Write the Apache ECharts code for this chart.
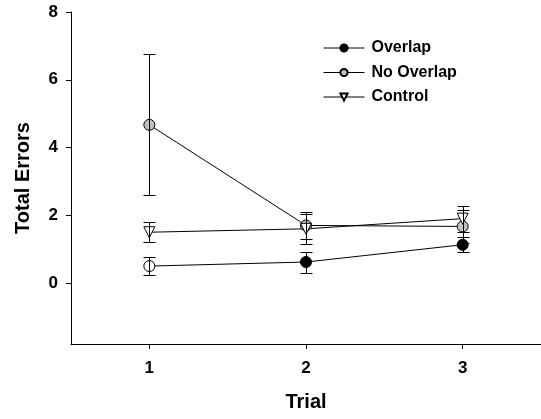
<!DOCTYPE html>
<html><head><meta charset="utf-8">
<script src="https://cdn.jsdelivr.net/npm/echarts@6/dist/echarts.min.js"></script>
<style>html,body{margin:0;padding:0;background:#fff}#c{width:541px;height:419px}</style>
</head><body><div id="c"></div>
<script>
const trials = ['1', '2', '3'];
const overlapMean = [0.5, 0.62, 1.13];
const overlapErr = [0.26, 0.31, 0.22];
const noOverlapMean = [4.67, 1.7, 1.67];
const noOverlapErr = [2.08, 0.4, 0.5];
const controlMean = [1.5, 1.6, 1.9];
const controlErr = [0.3, 0.45, 0.38];
const yTicks = [0, 2, 4, 6, 8];

const FONT = '"Liberation Sans", Arial, Helvetica, sans-serif';

function errSeries(name, mean, err) {
  return {
    type: 'custom', name: name + ' err', z: 5, silent: true,
    data: mean.map((m, i) => [i, m - err[i], m + err[i]]),
    encode: { x: 0, y: [1, 2] },
    renderItem(params, api) {
      const x = api.value(0);
      const lo = api.coord([x, api.value(1)]);
      const hi = api.coord([x, api.value(2)]);
      const w = 6;
      const cx = Math.round(lo[0]) + 0.5;
      const ly = Math.round(lo[1]) + 0.5, hy = Math.round(hi[1]) + 0.5;
      const st = { stroke: '#000', lineWidth: 1 };
      return { type: 'group', children: [
        { type: 'line', shape: { x1: cx, y1: ly, x2: cx, y2: hy }, style: st },
        { type: 'line', shape: { x1: cx - w, y1: ly, x2: cx + w, y2: ly }, style: st },
        { type: 'line', shape: { x1: cx - w, y1: hy, x2: cx + w, y2: hy }, style: st }
      ]};
    }
  };
}

const chart = echarts.init(document.getElementById('c'), null, { renderer: 'canvas' });
chart.setOption({
  animation: false,
  backgroundColor: '#fff',
  textStyle: { fontFamily: FONT },
  grid: { left: 71, top: 12, width: 478, bottom: 75, containLabel: false },
  legend: {
    orient: 'vertical', left: 318, top: 35,
    itemWidth: 41, itemHeight: 9, itemGap: 8.5,
    data: ['Overlap', 'No Overlap', 'Control'],
    lineStyle: { width: 1, color: '#000' },
    textStyle: { fontFamily: FONT, fontWeight: 'bold', fontSize: 16, lineHeight: 14, color: '#000', padding: [0, 0, 0, 2] }
  },
  xAxis: {
    type: 'category', data: trials, boundaryGap: true,
    axisLine: { onZero: false, lineStyle: { color: '#000', width: 1 } },
    axisTick: { show: true, alignWithLabel: true, length: 5, lineStyle: { color: '#000' } },
    axisLabel: { color: '#000', fontWeight: 'bold', fontSize: 17, margin: 16, fontFamily: FONT },
    name: 'Trial', nameLocation: 'middle', nameGap: 48,
    nameTextStyle: { color: '#000', fontWeight: 'bold', fontSize: 20, fontFamily: FONT },
    splitLine: { show: false }
  },
  yAxis: {
    type: 'value', min: -1.8, max: 8,
    axisLine: { show: true, lineStyle: { color: '#000', width: 1 } },
    axisTick: { show: true, length: 5, customValues: yTicks, lineStyle: { color: '#000' } },
    axisLabel: { color: '#000', fontWeight: 'bold', fontSize: 17, margin: 13, customValues: yTicks, fontFamily: FONT },
    name: 'Total Errors', nameLocation: 'middle', nameGap: 38, nameRotate: 90,
    nameTextStyle: { color: '#000', fontWeight: 'bold', fontSize: 20, fontFamily: FONT },
    splitLine: { show: false }
  },
  series: [
    {
      name: 'Overlap', type: 'line', z: 3,
      data: overlapMean.map((v, i) => i === 0 ? { value: v, itemStyle: { color: '#fff' } } : v),
      symbol: 'circle', symbolSize: 11,
      lineStyle: { color: '#000', width: 1 },
      itemStyle: { color: '#000', borderColor: '#000', borderWidth: 1 }
    },
    {
      name: 'No Overlap', type: 'line', z: 3,
      data: noOverlapMean,
      symbol: 'circle', symbolSize: 11,
      lineStyle: { color: '#000', width: 1 },
      itemStyle: { color: '#c0c0c0', borderColor: '#000', borderWidth: 1 }
    },
    {
      name: 'Control', type: 'line', z: 3,
      data: controlMean,
      symbol: 'triangle', symbolSize: 11, symbolRotate: 180,
      lineStyle: { color: '#000', width: 1 },
      itemStyle: { color: '#fff', borderColor: '#000', borderWidth: 1 }
    },
    errSeries('Overlap', overlapMean, overlapErr),
    errSeries('No Overlap', noOverlapMean, noOverlapErr),
    errSeries('Control', controlMean, controlErr)
  ]
});
</script>
</body></html>
